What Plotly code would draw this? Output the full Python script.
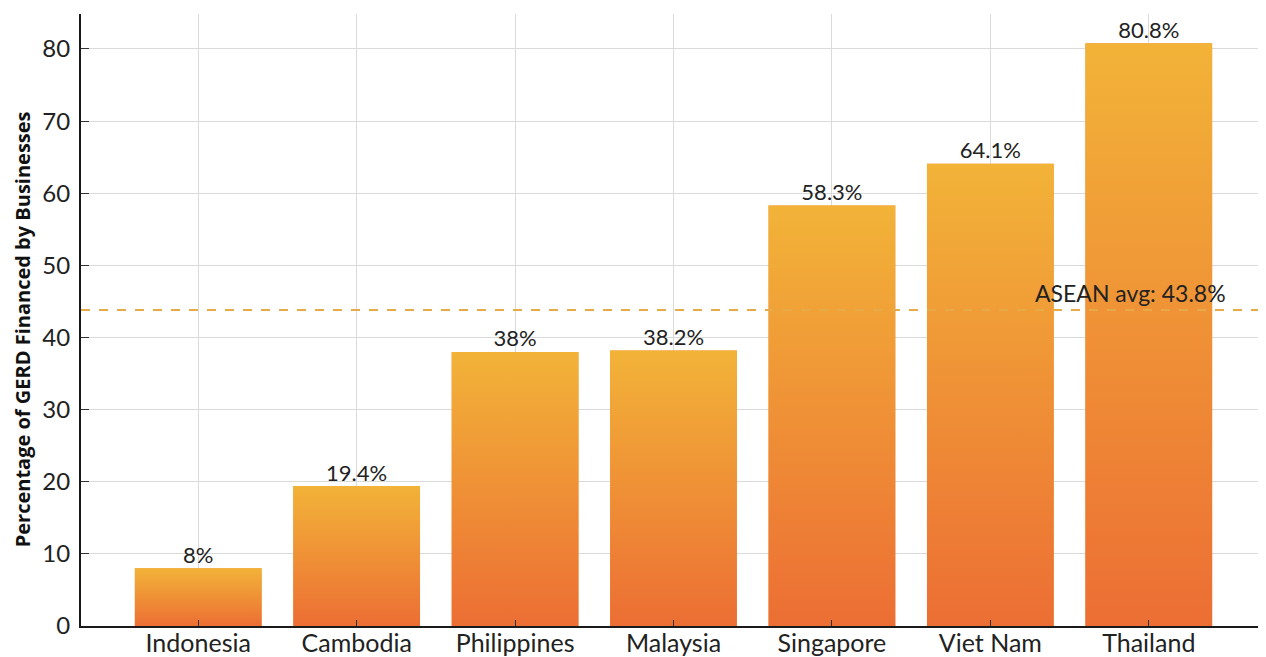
import plotly.graph_objects as go

countries = ["Indonesia", "Cambodia", "Philippines", "Malaysia", "Singapore", "Viet Nam", "Thailand"]
shares = [8, 19.4, 38, 38.2, 58.3, 64.1, 80.8]
bar_labels = ["8%", "19.4%", "38%", "38.2%", "58.3%", "64.1%", "80.8%"]
asean_avg = 43.8
avg_label = "ASEAN avg: 43.8%"
y_ticks = [0, 10, 20, 30, 40, 50, 60, 70, 80]
y_title = "Percentage of GERD Financed by Businesses"

TOP_COLOR = "#F2B338"
BOTTOM_COLOR = "#EC6E34"
BAR_W = 0.8
FONT = "Lato, Open Sans, sans-serif"

xs = list(range(len(countries)))

fig = go.Figure()
fig.add_trace(go.Bar(x=xs, y=shares, width=BAR_W, marker=dict(color="#F0903A", line=dict(width=0)),
                     hoverinfo="skip", showlegend=False))

half = BAR_W / 2
for i, v in zip(xs, shares):
    fig.add_trace(go.Scatter(
        x=[i - half, i + half, i + half, i - half, i - half],
        y=[0, 0, v, v, 0],
        mode="lines", line=dict(width=0), fill="toself",
        fillgradient=dict(type="vertical", colorscale=[[0, BOTTOM_COLOR], [1, TOP_COLOR]]),
        hoverinfo="skip", showlegend=False,
    ))

fig.add_trace(go.Scatter(
    x=xs, y=shares, mode="text", text=bar_labels, textposition="top center",
    textfont=dict(family=FONT, size=22, color="#222222"), cliponaxis=False,
    hoverinfo="skip", showlegend=False,
))

fig.add_shape(type="line", xref="paper", x0=0, x1=1, yref="y", y0=asean_avg, y1=asean_avg,
              line=dict(color="#E6AA48", width=2, dash="dash"), layer="above")

fig.add_annotation(text=avg_label, xref="paper", x=0.968, xanchor="right", yref="y", y=asean_avg,
                   yanchor="bottom", yshift=1, showarrow=False,
                   font=dict(family=FONT, size=23, color="#222222"))

fig.add_annotation(text=y_title, xref="paper", x=-73 / 1185, yref="paper", y=0.484, textangle=-90,
                   xanchor="left", yanchor="middle", showarrow=False, borderpad=0,
                   font=dict(family="Open Sans, sans-serif", size=20, color="#111111", weight="bold"))

# page body has an 8px default margin; size the figure so the plot area lands where the reference has it
fig.update_layout(
    width=1258, height=649,
    margin=dict(l=73, r=0, t=6, b=31),
    paper_bgcolor="white", plot_bgcolor="white",
    showlegend=False,
    xaxis=dict(
        range=[-0.74, 6.74], tickmode="array", tickvals=xs, ticktext=countries,
        showgrid=True, gridcolor="#DADADA", gridwidth=1, zeroline=False,
        showline=True, linecolor="#1A1A1A", linewidth=2,
        ticks="inside", ticklen=6, tickcolor="#333333", ticklabelstandoff=-6,
        tickfont=dict(family=FONT, size=25, color="#222222"),
        automargin=False, fixedrange=True,
    ),
    yaxis=dict(
        range=[0, 84.85], tickmode="array", tickvals=y_ticks,
        showgrid=True, gridcolor="#DADADA", gridwidth=1, zeroline=False,
        showline=True, linecolor="#1A1A1A", linewidth=2,
        ticks="inside", ticklen=8, tickcolor="#333333", ticklabelstandoff=4,
        tickfont=dict(family=FONT, size=24, color="#222222"),
        automargin=False, fixedrange=True,
    ),
)

fig.write_html("out.html")
